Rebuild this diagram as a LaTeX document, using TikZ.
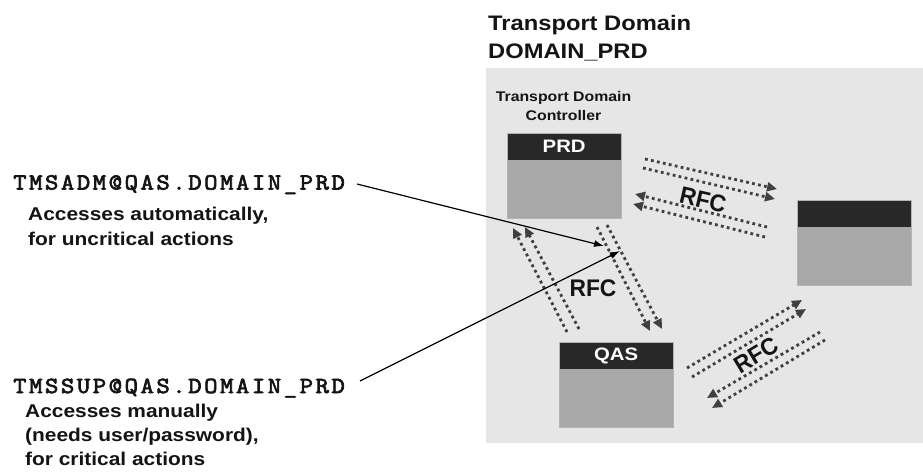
\documentclass[tikz,border=0pt]{standalone}
\usepackage{fontspec}
\setmainfont{Liberation Sans}[FakeStretch=1.13]
\newfontfamily\rfcfont{Liberation Sans}[FakeStretch=0.95]
\newfontfamily\acctfont{Latin Modern Mono}[FakeStretch=1.13,FakeBold=3,LetterSpace=11]
\usetikzlibrary{arrows.meta}

\definecolor{panelgray}{HTML}{E6E6E6}
\definecolor{boxhead}{HTML}{282828}
\definecolor{boxbody}{HTML}{A8A8A8}
\definecolor{boxedge}{HTML}{B4B4B4}
\definecolor{rfcink}{HTML}{404040}
\definecolor{ink}{HTML}{141414}

\begin{document}
\begin{tikzpicture}[x=1pt,y=-1pt,
  sysbody/.style={fill=boxbody, draw=boxedge, line width=0.8pt,
    minimum width=114pt, minimum height=85pt, inner sep=0pt, anchor=north west},
  syshead/.style={fill=boxhead, minimum width=113pt, minimum height=26pt,
    inner sep=0pt, anchor=north west, text=white,
    font=\bfseries\fontsize{18}{18}\selectfont},
  txt/.style={anchor=base west, inner sep=0pt, text=ink},
  titletxt/.style={txt, font=\bfseries\fontsize{21}{21}\selectfont},
  desctxt/.style={txt, font=\bfseries\fontsize{18.5}{18.5}\selectfont},
  accttxt/.style={txt, font=\acctfont\fontsize{23}{23}\selectfont},
  ctrltxt/.style={anchor=base, inner sep=0pt, text=ink,
    font=\bfseries\fontsize{14}{14}\selectfont},
  rfclabel/.style={inner sep=0pt, text=ink,
    font=\rfcfont\bfseries\fontsize{24}{24}\selectfont},
  rfcline/.style={draw=rfcink, line width=2.8pt, dash pattern=on 2.8pt off 3.3pt,
    -{Triangle[length=10pt,width=9pt]}},
  access/.style={draw=black, line width=1.2pt, -{Latex[length=10pt,width=7pt]}}
]
\useasboundingbox (0,0) rectangle (923,472);
\fill[white] (0,0) rectangle (923,472);

% transport domain area
\node[fill=panelgray, minimum width=437pt, minimum height=375pt, inner sep=0pt,
  anchor=north west] (domain) at (486,68) {};
\node[titletxt] (title1) at (488,30) {Transport Domain};
\node[titletxt] (title2) at (488,58) {DOMAIN\_PRD};

% systems
\node[ctrltxt] (ctrl1) at (563.5,101.7) {Transport Domain};
\node[ctrltxt] (ctrl2) at (563.5,120) {Controller};

\node[sysbody] (prd) at (507,133) {};
\node[syshead] (prdh) at ([xshift=0.5pt,yshift=-0.5pt]prd.north west) {PRD};

\node[sysbody] (qas) at (559,342) {};
\node[syshead] (qash) at ([xshift=0.5pt,yshift=-0.5pt]qas.north west) {QAS};

\node[sysbody] (third) at (797,200) {};
\node[syshead] (thirdh) at ([xshift=0.5pt,yshift=-0.5pt]third.north west) {};

% RFC connection end points
\coordinate (qa1) at (567,332);  \coordinate (pa1) at (513,228);
\coordinate (qa2) at (579,329);  \coordinate (pa2) at (525,227);
\coordinate (pb1) at (597,227);  \coordinate (qb1) at (650,331);
\coordinate (pb2) at (607,225);  \coordinate (qb2) at (662,329);
\coordinate (pc1) at (645,159);  \coordinate (tc1) at (777,189);
\coordinate (pc2) at (643,168);  \coordinate (tc2) at (775,199);
\coordinate (td1) at (767,227);  \coordinate (pd1) at (635,194);
\coordinate (td2) at (765,237);  \coordinate (pd2) at (633,204);
\coordinate (qe1) at (687,368);  \coordinate (te1) at (802,300);
\coordinate (qe2) at (692,377);  \coordinate (te2) at (806,309);
\coordinate (tf1) at (820,332);  \coordinate (qf1) at (707,398);
\coordinate (tf2) at (825,340);  \coordinate (qf2) at (712,408);

% RFC connections
\draw[rfcline] (qa1) -- (pa1);
\draw[rfcline] (qa2) -- (pa2);
\draw[rfcline] (pb1) -- (qb1);
\draw[rfcline] (pb2) -- (qb2);
\draw[rfcline] (pc1) -- (tc1);
\draw[rfcline] (pc2) -- (tc2);
\draw[rfcline] (td1) -- (pd1);
\draw[rfcline] (td2) -- (pd2);
\draw[rfcline] (qe1) -- (te1);
\draw[rfcline] (qe2) -- (te2);
\draw[rfcline] (tf1) -- (qf1);
\draw[rfcline] (tf2) -- (qf2);

\node[rfclabel] (rfc1) at (593,288) {RFC};
\node[rfclabel, rotate=-13] (rfc2) at (703,200) {RFC};
\node[rfclabel, rotate=31] (rfc3) at (756,355) {RFC};

% RFC users
\node[accttxt] (adm) at (13,189.5) {TMSADM@QAS.DOMAIN\_PRD};
\node[desctxt] (adm1) at (28,220) {Accesses automatically,};
\node[desctxt] (adm2) at (28,245) {for uncritical actions};

\node[accttxt] (sup) at (13,393) {TMSSUP@QAS.DOMAIN\_PRD};
\node[desctxt] (sup1) at (25,417) {Accesses manually};
\node[desctxt] (sup2) at (25,441) {(needs user/password),};
\node[desctxt] (sup3) at (25,465) {for critical actions};

\coordinate (admfrom) at (357,184);
\coordinate (admto) at (604,246);
\coordinate (supfrom) at (360,381);
\coordinate (supto) at (620,251);
\draw[access] (admfrom) -- (admto);
\draw[access] (supfrom) -- (supto);
\end{tikzpicture}
\end{document}
